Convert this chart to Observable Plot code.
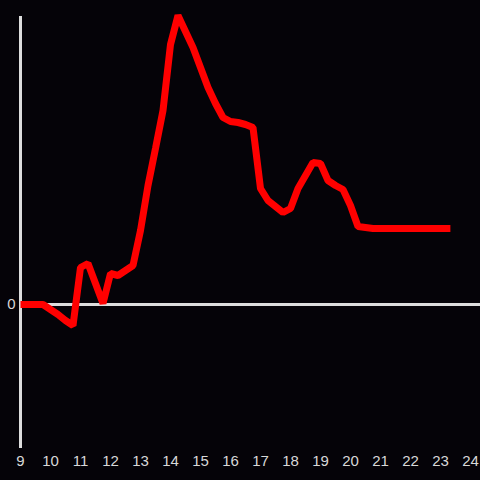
<!DOCTYPE html>
<html>
<head>
<meta charset="utf-8">
<script src="https://cdn.jsdelivr.net/npm/d3@7"></script>
<script src="https://cdn.jsdelivr.net/npm/@observablehq/plot@0.6"></script>
<style>
  html, body { margin: 0; padding: 0; background: #050308; }
  #chart svg text { font-family: "Liberation Sans", Arial, sans-serif !important; font-size: 15px !important; }
</style>
</head>
<body>
<div id="chart"></div>
<script>
const hours = [9, 9.25, 9.5, 9.75, 10, 10.25, 10.5, 10.75, 11, 11.25, 11.5, 11.75,
  12, 12.25, 12.5, 12.75, 13, 13.25, 13.5, 13.75, 14, 14.25, 14.5, 14.75,
  15, 15.25, 15.5, 15.75, 16, 16.25, 16.5, 16.75, 17, 17.25, 17.5, 17.75,
  18, 18.25, 18.5, 18.75, 19, 19.25, 19.5, 19.75, 20, 20.25, 20.5, 20.75,
  21, 21.25, 21.5, 21.75, 22, 22.25, 22.5, 22.75, 23, 23.25, 23.33];
const values = [0, 0, 0, 0, -5, -10, -16, -21, 37, 41, 21, 1,
  31, 29, 34, 39, 74, 119, 156, 194, 260, 289, 273, 257,
  237, 217, 201, 187, 183, 182, 180, 177, 116, 104, 98, 92,
  96, 116, 129, 142, 141, 124, 119, 115, 99, 78, 77, 76,
  76, 76, 76, 76, 76, 76, 76, 76, 76, 76, 76];
const xTicks = [9, 10, 11, 12, 13, 14, 15, 16, 17, 18, 19, 20, 21, 22, 23, 24];
const yTicks = [0];

const data = hours.map((h, i) => ({hour: h, value: values[i]}));

const chart = Plot.plot({
  width: 480,
  height: 480,
  marginTop: 16,
  marginBottom: 32,
  marginLeft: 20,
  marginRight: 0,
  style: {background: "#050308", color: "#d8d8d8", fontSize: "15px", fontFamily: "'Liberation Sans', Arial, sans-serif"},
  x: {domain: [9, 24 + 1/3], label: null},
  y: {domain: [-144, 288], label: null},
  marks: [
    Plot.ruleY([0], {stroke: "#dddddd", strokeWidth: 3}),
    Plot.ruleX([9], {stroke: "#dddddd", strokeWidth: 3}),
    Plot.axisX({ticks: xTicks, tickSize: 0, tickPadding: 7, tickFormat: d => String(d), label: null, fontSize: 15}),
    Plot.axisY({ticks: yTicks, tickSize: 0, tickPadding: 5, tickFormat: d => String(d), label: null, fontSize: 15}),
    Plot.line(data, {x: "hour", y: "value", stroke: "#ff0000", strokeWidth: 7, strokeLinejoin: "miter", strokeLinecap: "butt"})
  ]
});
document.getElementById("chart").appendChild(chart);
</script>
</body>
</html>
